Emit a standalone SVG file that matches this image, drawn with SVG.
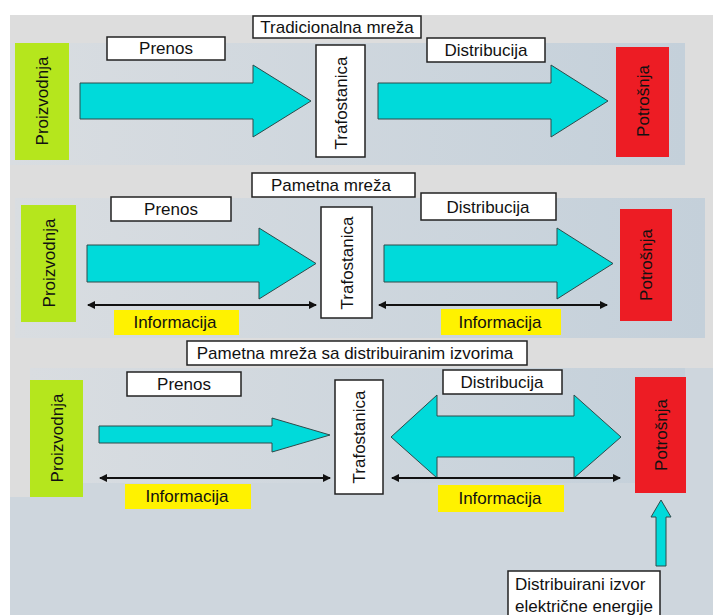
<svg xmlns="http://www.w3.org/2000/svg" width="713" height="615" viewBox="0 0 713 615">
<defs>
<linearGradient id="pg" x1="0" y1="0" x2="1" y2="0">
<stop offset="0" stop-color="#d9dde1"/>
<stop offset="1" stop-color="#c4d0da"/>
</linearGradient>
<marker id="ah" markerWidth="8" markerHeight="8" refX="7" refY="4" orient="auto-start-reverse" markerUnits="userSpaceOnUse">
<path d="M0,0 L8,4 L0,8 z" fill="#111"/>
</marker>
</defs>
<style>
text{font-family:"Liberation Sans",Arial,sans-serif;font-size:17px;fill:#111}
.lbl{fill:#fff;stroke:#222;stroke-width:1.5}
.gen{fill:#b5e61d}
.con{fill:#ed1c24}
.inf{fill:#fff200}
.blk{fill:#00dada;stroke:#2f4a4a;stroke-width:1}
.info{stroke:#111;stroke-width:2;fill:none;marker-start:url(#ah);marker-end:url(#ah)}
.m{text-anchor:middle}
</style>
<rect x="0" y="0" width="713" height="615" fill="#fff"/>
<rect x="10" y="15" width="703" height="600" fill="#dddddd"/>
<g id="background">
<rect x="10" y="43" width="675" height="122" fill="url(#pg)"/>
<rect x="15" y="198" width="690" height="140" fill="url(#pg)"/>
<rect x="30" y="368" width="683" height="247" fill="#ced6dd"/>
<rect x="10" y="497" width="20" height="118" fill="#ced6dd"/>
<rect x="30" y="368" width="655" height="115" fill="url(#pg)"/>
</g>
<g id="connectors">
<polygon class="blk" points="80,83 253,83 253,65 311,101 253,137 253,119 80,119"/>
<polygon class="blk" points="378,83 551,83 551,65 608,101 551,137 551,119 378,119"/>
<polygon class="blk" points="87,245 259,245 259,228 316,263.5 259,299 259,282 87,282"/>
<polygon class="blk" points="384,245 557,245 557,228 613,263.5 557,299 557,282 384,282"/>
<line class="info" x1="88" y1="305" x2="316" y2="305"/>
<line class="info" x1="379" y1="305" x2="607" y2="305"/>
<polygon class="blk" points="99,426 272,426 272,418 330,435 272,452 272,443 99,443"/>
<polygon class="blk" points="391,437 437,395 437,416 574,416 574,395 621,437 574,478 574,457 437,457 437,478"/>
<line class="info" x1="100" y1="478" x2="330" y2="478"/>
<line class="info" x1="392" y1="478" x2="620" y2="478"/>
<polygon class="blk" points="661,500 671,517 666,517 666,566 656,566 656,517 651,517"/>
</g>
<g id="title1"><rect class="lbl" x="253" y="16" width="168" height="22"/><text class="m" x="337" y="33">Tradicionalna mreža</text></g>
<g id="prenos1"><rect class="lbl" x="107" y="37" width="118" height="23"/><text class="m" x="166" y="54">Prenos</text></g>
<g id="distribucija1"><rect class="lbl" x="427" y="38" width="118" height="24"/><text class="m" x="486" y="56">Distribucija</text></g>
<g id="proizvodnja1"><rect class="gen" x="15" y="43" width="54" height="117"/><text class="m" transform="translate(42,101) rotate(-90)" y="6">Proizvodnja</text></g>
<g id="trafostanica1"><rect class="lbl" x="316" y="45" width="49" height="112"/><text class="m" transform="translate(340.5,103) rotate(-90)" y="6">Trafostanica</text></g>
<g id="potrosnja1"><rect class="con" x="616" y="47" width="53" height="110"/><text class="m" transform="translate(642.5,101) rotate(-90)" y="6">Potrošnja</text></g>

<g id="title2"><rect class="lbl" x="252" y="173" width="163" height="24"/><text class="m" x="331" y="191">Pametna mreža</text></g>
<g id="prenos2"><rect class="lbl" x="111" y="197" width="120" height="24"/><text class="m" x="171" y="215">Prenos</text></g>
<g id="distribucija2"><rect class="lbl" x="421" y="193" width="135" height="27"/><text class="m" x="488" y="213">Distribucija</text></g>
<g id="proizvodnja2"><rect class="gen" x="21" y="205" width="55" height="117"/><text class="m" transform="translate(48.5,263) rotate(-90)" y="6">Proizvodnja</text></g>
<g id="trafostanica2"><rect class="lbl" x="321" y="207" width="51" height="111"/><text class="m" transform="translate(346.5,263) rotate(-90)" y="6">Trafostanica</text></g>
<g id="potrosnja2"><rect class="con" x="620" y="209" width="52" height="112"/><text class="m" transform="translate(646,265) rotate(-90)" y="6">Potrošnja</text></g>
<g id="informacija2a"><rect class="inf" x="114" y="310" width="125" height="25"/><text class="m" x="175" y="328">Informacija</text></g>
<g id="informacija2b"><rect class="inf" x="441" y="309" width="120" height="26"/><text class="m" x="500" y="328">Informacija</text></g>

<g id="title3"><rect class="lbl" x="187" y="341" width="340" height="24"/><text class="m" x="355" y="359">Pametna mreža sa distribuiranim izvorima</text></g>
<g id="prenos3"><rect class="lbl" x="127" y="372" width="114" height="24"/><text class="m" x="184" y="390">Prenos</text></g>
<g id="distribucija3"><rect class="lbl" x="443" y="370" width="119" height="24"/><text class="m" x="502" y="388">Distribucija</text></g>
<g id="proizvodnja3"><rect class="gen" x="30" y="380" width="53" height="117"/><text class="m" transform="translate(56.5,438) rotate(-90)" y="6">Proizvodnja</text></g>
<g id="trafostanica3"><rect class="lbl" x="335" y="380" width="48" height="114"/><text class="m" transform="translate(359,437) rotate(-90)" y="6">Trafostanica</text></g>
<g id="potrosnja3"><rect class="con" x="635" y="377" width="51" height="116"/><text class="m" transform="translate(660.5,435) rotate(-90)" y="6">Potrošnja</text></g>
<g id="informacija3a"><rect class="inf" x="125" y="484" width="126" height="25"/><text class="m" x="187" y="502">Informacija</text></g>
<g id="informacija3b"><rect class="inf" x="438" y="485" width="126" height="27"/><text class="m" x="500" y="504">Informacija</text></g>
<g id="izvor"><rect class="lbl" x="508" y="571" width="152" height="50"/><text x="515" y="590">Distribuirani izvor</text><text x="515" y="612">električne energije</text></g>
</svg>
